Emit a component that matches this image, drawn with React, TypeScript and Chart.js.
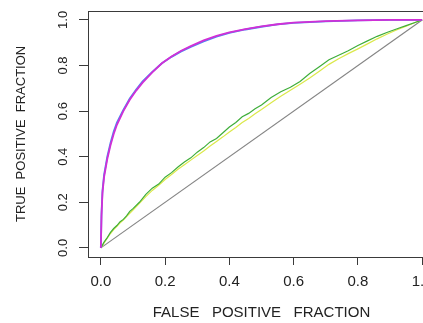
import React, { useEffect, useRef } from "react";
import { Chart, registerables } from "chart.js";

Chart.register(...registerables);

// Tick values
const xTickValues = [0, 0.2, 0.4, 0.6, 0.8, 1.0];
const yTickValues = [0, 0.2, 0.4, 0.6, 0.8, 1.0];

// Upper pair of ROC curves
const upperFpr = [0, 0.002, 0.005, 0.01, 0.02, 0.03, 0.04, 0.05, 0.07, 0.09, 0.11, 0.13, 0.16, 0.19, 0.22, 0.25, 0.28, 0.32, 0.36, 0.4, 0.45, 0.5, 0.55, 0.6, 0.7, 0.8, 0.9, 1];
const magentaTpr = [0, 0.14, 0.24, 0.31, 0.39, 0.45, 0.5, 0.54, 0.6, 0.65, 0.69, 0.725, 0.77, 0.81, 0.84, 0.865, 0.885, 0.91, 0.93, 0.945, 0.96, 0.972, 0.981, 0.988, 0.995, 0.998, 1, 1];
const blueTpr = [0, 0.15, 0.25, 0.32, 0.4, 0.46, 0.51, 0.55, 0.605, 0.655, 0.695, 0.73, 0.772, 0.81, 0.838, 0.862, 0.882, 0.906, 0.927, 0.943, 0.958, 0.97, 0.98, 0.987, 0.994, 0.998, 1, 1];

// Lower pair of ROC curves
const lowerFpr = [0, 0.01, 0.02, 0.03, 0.04, 0.05, 0.06, 0.07, 0.08, 0.09, 0.1, 0.12, 0.14, 0.16, 0.18, 0.2, 0.22, 0.24, 0.26, 0.28, 0.3, 0.32, 0.34, 0.36, 0.38, 0.4, 0.42, 0.44, 0.46, 0.48, 0.5, 0.53, 0.56, 0.59, 0.62, 0.65, 0.68, 0.71, 0.74, 0.77, 0.8, 0.83, 0.86, 0.89, 0.92, 0.95, 0.98, 1];
const greenTpr = [0, 0.025, 0.045, 0.068, 0.085, 0.098, 0.115, 0.125, 0.14, 0.16, 0.172, 0.2, 0.235, 0.262, 0.28, 0.31, 0.33, 0.355, 0.377, 0.395, 0.42, 0.44, 0.465, 0.48, 0.505, 0.53, 0.55, 0.575, 0.59, 0.61, 0.627, 0.66, 0.685, 0.705, 0.73, 0.765, 0.795, 0.825, 0.845, 0.865, 0.888, 0.908, 0.928, 0.945, 0.96, 0.975, 0.99, 1];
const yellowTpr = [0, 0.022, 0.043, 0.063, 0.08, 0.095, 0.11, 0.122, 0.137, 0.152, 0.166, 0.195, 0.225, 0.252, 0.275, 0.3, 0.322, 0.345, 0.365, 0.385, 0.405, 0.425, 0.447, 0.467, 0.487, 0.508, 0.528, 0.55, 0.568, 0.588, 0.607, 0.637, 0.665, 0.692, 0.718, 0.745, 0.775, 0.805, 0.83, 0.852, 0.873, 0.895, 0.917, 0.937, 0.956, 0.972, 0.99, 1];

// Chance diagonal
const diagX = [0, 1];
const diagY = [0, 1];

const xTitle = "FALSE   POSITIVE   FRACTION";
const yTitle = "TRUE  POSITIVE  FRACTION";

const zip = (xs: number[], ys: number[]) => xs.map((x, i) => ({ x, y: ys[i] }));

const FONT = '"Liberation Sans", Arial, Helvetica, sans-serif';

const framePlugin = {
  id: "rframe",
  afterDraw(chart: any) {
    const { ctx, chartArea: a, scales } = chart;
    ctx.save();
    ctx.strokeStyle = "#3a3a3a";
    ctx.lineWidth = 1;
    ctx.strokeRect(Math.round(a.left) + 0.5, Math.round(a.top) + 0.5, Math.round(a.right - a.left), Math.round(a.bottom - a.top));
    const ys = scales.y;
    ctx.fillStyle = "#222";
    ctx.font = `13px ${FONT}`;
    ctx.textAlign = "center";
    ctx.textBaseline = "middle";
    ys.ticks.forEach((t: any, i: number) => {
      const py = ys.getPixelForTick(i);
      ctx.save();
      ctx.translate(63, py);
      ctx.rotate(-Math.PI / 2);
      ctx.fillText(String(t.label), 0, 0);
      ctx.restore();
    });
    ctx.restore();
  },
};

export default function App() {
  const ref = useRef<HTMLCanvasElement | null>(null);

  useEffect(() => {
    if (!ref.current) return;
    const chart = new Chart(ref.current, {
      type: "line",
      data: {
        datasets: [
          { data: zip(upperFpr, magentaTpr), borderColor: "#d12fd6", borderWidth: 1.8 },
          { data: zip(upperFpr, blueTpr), borderColor: "#4f86f0", borderWidth: 1.8 },
          { data: zip(lowerFpr, greenTpr), borderColor: "#3fae3a", borderWidth: 1.2 },
          { data: zip(lowerFpr, yellowTpr), borderColor: "#dbe84a", borderWidth: 1.2 },
          { data: zip(diagX, diagY), borderColor: "#858585", borderWidth: 1.2 },
        ].map((d) => ({ ...d, pointRadius: 0, tension: 0, fill: false })),
      },
      options: {
        animation: false,
        responsive: true,
        maintainAspectRatio: false,
        parsing: true,
        layout: { padding: { top: 7, right: 10, left: 0, bottom: 0 } },
        plugins: { legend: { display: false }, tooltip: { enabled: false } },
        scales: {
          x: {
            type: "linear",
            min: -0.04,
            max: 1.04,
            afterBuildTicks: (s: any) => {
              s.ticks = xTickValues.map((v) => ({ value: v }));
            },
            afterFit: (s: any) => {
              s.height = 66;
            },
            ticks: {
              callback: (v: any) => Number(v).toFixed(1),
              color: "#222",
              font: { size: 15, family: FONT },
              padding: 8,
              maxRotation: 0,
              minRotation: 0,
            },
            grid: { drawOnChartArea: false, drawTicks: true, tickLength: 8, tickColor: "#3a3a3a", color: "#3a3a3a" },
            border: { display: false },
            title: { display: true, text: xTitle, color: "#222", font: { size: 15, family: FONT }, padding: { top: 0, bottom: 1 } },
          },
          y: {
            type: "linear",
            min: -0.04,
            max: 1.04,
            afterBuildTicks: (s: any) => {
              s.ticks = yTickValues.map((v) => ({ value: v }));
            },
            afterFit: (s: any) => {
              s.width = 88;
            },
            ticks: {
              callback: (v: any) => Number(v).toFixed(1),
              color: "rgba(0,0,0,0)",
              font: { size: 13, family: FONT },
            },
            grid: { drawOnChartArea: false, drawTicks: true, tickLength: 9, tickColor: "#3a3a3a", color: "#3a3a3a" },
            border: { display: false },
            title: { display: true, text: yTitle, color: "#222", font: { size: 13, family: FONT }, padding: { top: 14, bottom: 0 } },
          },
        },
      },
      plugins: [framePlugin],
    } as any);
    return () => chart.destroy();
  }, []);

  return (
    <div style={{ position: "fixed", left: 0, top: 0, width: 423, height: 323, overflow: "hidden", background: "#fff" }}>
      <div style={{ position: "relative", width: 445, height: 323 }}>
        <canvas ref={ref} />
      </div>
    </div>
  );
}
